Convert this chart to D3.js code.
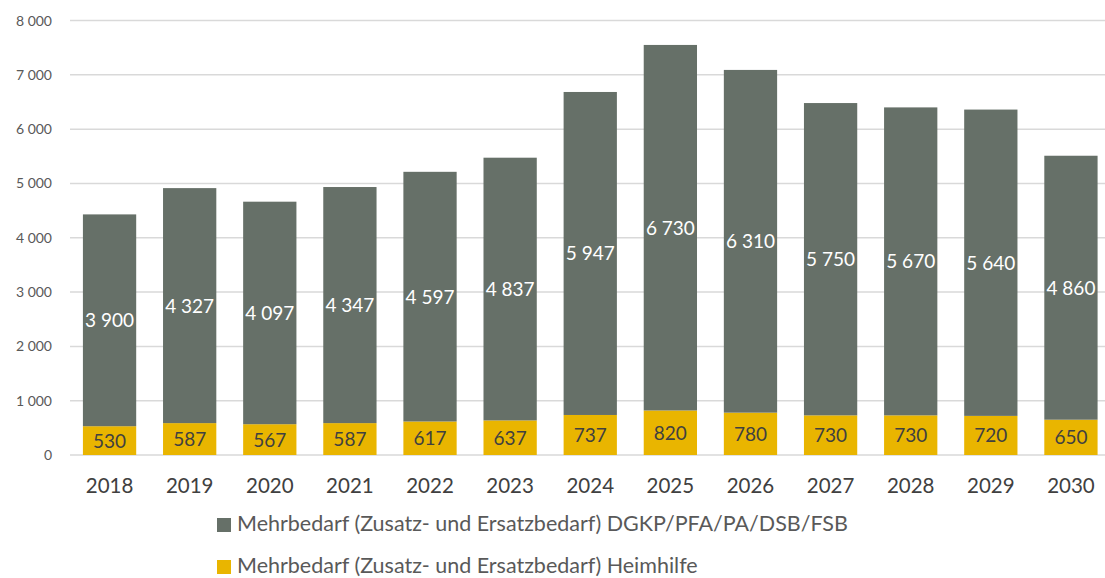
<!DOCTYPE html>
<html><head><meta charset="utf-8">
<script src="https://cdn.jsdelivr.net/npm/d3@7"></script>
<style>body{margin:0;background:#fff}svg{display:block}text{font-family:Lato,"Open Sans",sans-serif}</style>
</head><body><svg id="c" width="1105" height="578"></svg>
<script>
const years = ["2018","2019","2020","2021","2022","2023","2024","2025","2026","2027","2028","2029","2030"];
const heimhilfe = [530,587,567,587,617,637,737,820,780,730,730,720,650];
const dgkp = [3900,4327,4097,4347,4597,4837,5947,6730,6310,5750,5670,5640,4860];
const yTicks = [0,1000,2000,3000,4000,5000,6000,7000,8000];
const seriesNames = ["Mehrbedarf (Zusatz- und Ersatzbedarf) DGKP/PFA/PA/DSB/FSB","Mehrbedarf (Zusatz- und Ersatzbedarf) Heimhilfe"];
const colors = ["#667068","#E9B500"];

const svg = d3.select("#c");
const x = d3.scaleBand().domain(years).range([69.5,1111]).paddingInner(0.335).paddingOuter(0.1675);
const y = d3.scaleLinear().domain([0,8000]).range([455,20.5]);
const fmt = v => d3.format(",")(v).replace(/,/g," ");

// gridlines
svg.append("g").selectAll("line").data(yTicks).join("line")
  .attr("x1",70).attr("x2",1105).attr("y1",d=>y(d)).attr("y2",d=>y(d))
  .attr("stroke","#d9d9d9").attr("stroke-width",1.5);
// y labels
svg.append("g").selectAll("text").data(yTicks).join("text")
  .attr("x",52).attr("y",d=>y(d)+5).attr("text-anchor","end")
  .attr("font-size",14).attr("fill","#595959").text(d=>fmt(d));
// x labels
svg.append("g").selectAll("text").data(years).join("text")
  .attr("x",d=>x(d)+x.bandwidth()/2).attr("y",493).attr("text-anchor","middle")
  .attr("font-size",20.5).attr("fill","#404040").text(d=>d);

// bars
const g = svg.append("g");
g.selectAll("rect.h").data(years).join("rect").attr("class","h")
  .attr("x",d=>x(d)).attr("width",x.bandwidth())
  .attr("y",(d,i)=>y(heimhilfe[i])).attr("height",(d,i)=>y(0)-y(heimhilfe[i]))
  .attr("fill",colors[1]);
g.selectAll("rect.d").data(years).join("rect").attr("class","d")
  .attr("x",d=>x(d)).attr("width",x.bandwidth())
  .attr("y",(d,i)=>y(heimhilfe[i]+dgkp[i])).attr("height",(d,i)=>y(heimhilfe[i])-y(heimhilfe[i]+dgkp[i]))
  .attr("fill",colors[0]);
// labels
g.selectAll("text.h").data(years).join("text").attr("class","h")
  .attr("x",d=>x(d)+x.bandwidth()/2).attr("y",(d,i)=>(y(0)+y(heimhilfe[i]))/2+7)
  .attr("text-anchor","middle").attr("font-size",19).attr("fill","#404040")
  .text((d,i)=>fmt(heimhilfe[i]));
g.selectAll("text.d").data(years).join("text").attr("class","d")
  .attr("x",d=>x(d)+x.bandwidth()/2).attr("y",(d,i)=>(y(heimhilfe[i])+y(heimhilfe[i]+dgkp[i]))/2+7)
  .attr("text-anchor","middle").attr("font-size",19).attr("fill","#ffffff")
  .text((d,i)=>fmt(dgkp[i]));

// legend
const lg = svg.append("g");
seriesNames.forEach((n,i)=>{
  const yy = 525 + i*42;
  lg.append("rect").attr("x",217).attr("y",yy-7).attr("width",14).attr("height",14).attr("fill",colors[i]);
  lg.append("text").attr("x",237).attr("y",yy+6).attr("font-size",21.5).attr("fill","#595959").text(n);
});
</script></body></html>
